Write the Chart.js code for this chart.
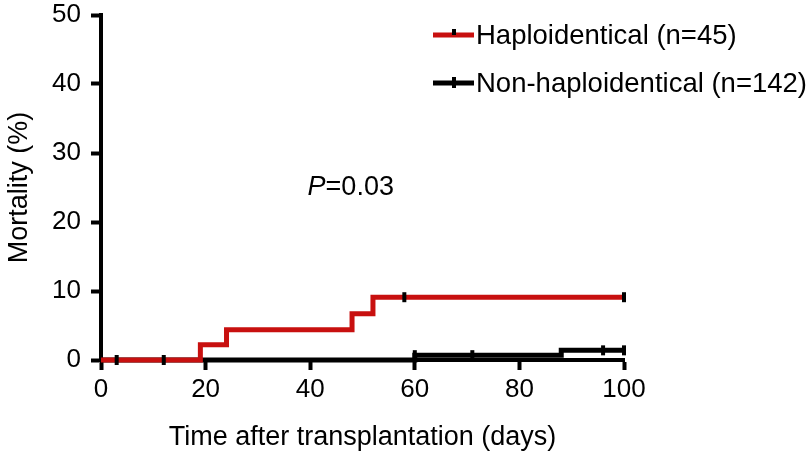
<!DOCTYPE html>
<html>
<head>
<meta charset="utf-8">
<script src="https://cdn.jsdelivr.net/npm/chart.js@4/dist/chart.umd.min.js"></script>
<style>
  html, body { margin: 0; padding: 0; background: #fff; }
  #wrap { width: 810px; height: 458px; }
</style>
</head>
<body>
<div id="wrap"><canvas id="km"></canvas></div>
<script>
// Kaplan-Meier steps
const haploDays = [0, 19, 24, 48, 52, 100];
const haploMort = [0, 2.2, 4.4, 6.7, 9.1, 9.1];
const haploCensorDays = [3, 12, 58, 100];
const haploCensorMort = [0, 0, 9.1, 9.1];

const nonHaploDays = [0, 60, 88, 100];
const nonHaploMort = [0, 0.7, 1.4, 1.4];
const nonHaploCensorDays = [60, 71, 96, 100];
const nonHaploCensorMort = [0.7, 0.7, 1.4, 1.4];

const xTicks = [0, 20, 40, 60, 80, 100];
const yTicks = [0, 10, 20, 30, 40, 50];

const seriesNames = ['Haploidentical (n=45)', 'Non-haploidentical (n=142)'];
const pText = '0.03';

const RED = '#c8100f';
const FONT = '"Liberation Sans", Arial, sans-serif';

function pts(xs, ys) {
    return xs.map((x, i) => ({x: x, y: ys[i]}));
}

function censorSet(xs, ys, order) {
    return {
        type: 'scatter',
        data: pts(xs, ys),
        pointStyle: 'line',
        rotation: 90,
        pointRadius: 5,
        pointBorderWidth: 4,
        borderColor: '#000',
        backgroundColor: '#000',
        order: order,
        clip: false,
    };
}

const data = {
    datasets: [
        {
            label: seriesNames[0],
            data: pts(haploDays, haploMort),
            borderColor: RED,
            borderWidth: 5,
            stepped: 'before',
            pointRadius: 0,
            order: 1,
            clip: 4,
        },
        {
            label: seriesNames[1],
            data: pts(nonHaploDays, nonHaploMort),
            borderColor: '#000',
            borderWidth: 5,
            stepped: 'before',
            pointRadius: 0,
            order: 3,
            clip: 4,
        },
        censorSet(haploCensorDays, haploCensorMort, 0),
        censorSet(nonHaploCensorDays, nonHaploCensorMort, 2),
    ],
};

// legend with line samples and the P value note
const extras = {
    id: 'extras',
    afterDraw(chart) {
        const ctx = chart.ctx;
        const colors = [RED, '#000'];
        const rows = [35, 83];
        ctx.save();
        ctx.font = '27.5px ' + FONT;
        ctx.textBaseline = 'middle';
        ctx.fillStyle = '#000';
        rows.forEach((y, i) => {
            ctx.strokeStyle = colors[i];
            ctx.lineWidth = 5;
            ctx.beginPath();
            ctx.moveTo(433, y);
            ctx.lineTo(474, y);
            ctx.stroke();
            ctx.strokeStyle = '#000';
            ctx.lineWidth = 4;
            ctx.beginPath();
            ctx.moveTo(454, y - 6);
            ctx.lineTo(454, y + (i ? 5 : 0));
            ctx.stroke();
            ctx.fillText(seriesNames[i], 476, y + 1);
        });
        const xs = chart.scales.x, ys = chart.scales.y;
        const px = xs.getPixelForValue(39.5);
        const py = ys.getPixelForValue(25);
        ctx.font = 'italic 27px ' + FONT;
        ctx.fillText('P', px, py);
        const w = ctx.measureText('P').width;
        ctx.font = '27px ' + FONT;
        ctx.fillText('=' + pText, px + w, py);
        ctx.restore();
    }
};

const tickFont = {family: FONT, size: 26};
const titleFont = {family: FONT, size: 27};

const options = {
    responsive: true,
    maintainAspectRatio: false,
    animation: false,
    layout: {padding: {top: 15, right: 186, left: 0, bottom: 0}},
    plugins: {legend: {display: false}, tooltip: {enabled: false}},
    scales: {
        x: {
            type: 'linear',
            min: 0,
            max: 100,
            afterBuildTicks: s => { s.ticks = xTicks.map(v => ({value: v})); },
            afterFit: s => { s.height = 98; s.paddingLeft = 0; s.paddingRight = 0; },
            border: {display: true, color: '#000', width: 4},
            grid: {drawOnChartArea: false, color: '#000', tickLength: 10, tickWidth: 4},
            ticks: {color: '#000', font: tickFont, padding: 4, maxRotation: 0},
            title: {display: true, text: 'Time after transplantation (days)', color: '#000', font: titleFont, padding: {top: 4, bottom: 4}},
        },
        y: {
            type: 'linear',
            min: 0,
            max: 50,
            afterBuildTicks: s => { s.ticks = yTicks.map(v => ({value: v})); },
            afterFit: s => { s.width = 101; s.paddingTop = 0; s.paddingBottom = 0; },
            border: {display: true, color: '#000', width: 4},
            grid: {drawOnChartArea: false, color: '#000', tickLength: 10, tickWidth: 4},
            ticks: {color: '#000', font: tickFont, padding: 10},
            title: {display: true, text: 'Mortality (%)', color: '#000', font: titleFont, padding: {top: 3, bottom: 0}},
        },
    },
};

new Chart(document.getElementById('km'), {type: 'line', data, options, plugins: [extras]});
</script>
</body>
</html>
